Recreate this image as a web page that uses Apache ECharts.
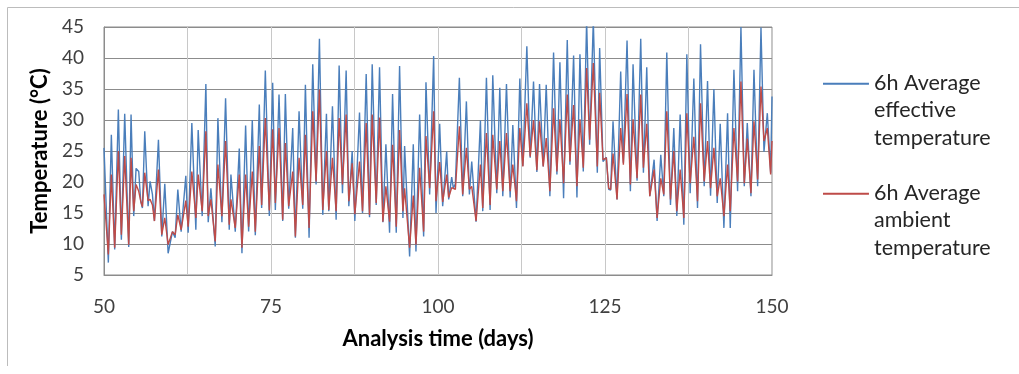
<!DOCTYPE html>
<html>
<head>
<meta charset="utf-8">
<script src="https://cdn.jsdelivr.net/npm/echarts@6/dist/echarts.min.js"></script>
<style>
html,body{margin:0;padding:0;background:#fff;}
#chart{width:1019px;height:374px;}
</style>
</head>
<body>
<div id="chart"></div>
<script>
// Analysis time (days)
const days = [
  50.0, 50.65, 51.1, 51.6, 52.15, 52.6, 53.1, 53.7, 54.05, 54.45, 54.8, 55.2, 55.5, 55.75, 56.1, 56.6, 56.9, 57.25, 57.55, 58.15, 58.65, 59.1, 59.6, 60.25, 60.65, 61.05, 61.55, 62.25, 62.6,
  63.15, 63.75, 64.1, 64.7, 65.25, 65.6, 66.0, 66.65, 67.05, 67.65, 68.2, 68.75, 69.0, 69.65, 70.25, 70.65, 71.2, 71.65, 72.2, 72.65, 73.25, 73.6, 74.15, 74.75,
  75.25, 75.65, 76.2, 76.75, 77.15, 77.65, 78.25, 78.65, 79.2, 79.75, 80.15, 80.7, 81.25, 81.75, 82.25, 82.75, 83.3, 83.65, 84.2, 84.75, 85.2, 85.7, 86.25, 86.65, 87.15, 87.55,
  88.25, 88.7, 89.25, 89.75, 90.15, 90.75, 91.25, 91.75, 92.2, 92.75, 93.2, 93.75, 94.25, 94.75, 95.0, 95.75, 96.3, 96.7, 97.25, 97.85, 98.2, 98.75, 99.35, 99.7, 100.25, 100.7,
  101.3, 101.6, 102.05, 102.3, 102.6, 103.2, 103.7, 104.25, 104.7, 105.05, 105.7, 106.35, 106.7, 107.25, 107.8, 108.2, 108.8, 109.25, 109.7, 110.25, 110.8, 111.2, 111.75, 112.25, 112.7, 113.3,
  113.8, 114.3, 114.8, 115.2, 115.75, 116.2, 116.75, 117.3, 117.8, 118.25, 118.8, 119.35, 119.75, 120.3, 120.8, 121.25, 121.75, 122.25, 122.7, 123.25, 123.85, 124.2, 124.7, 125.2, 125.55, 125.85, 126.2,
  126.8, 127.35, 127.75, 128.3, 128.8, 129.2, 129.8, 130.35, 130.75, 131.25, 131.7, 132.35, 132.8, 133.35, 133.8, 134.25, 134.8, 135.3, 135.75, 136.25, 136.8, 137.25, 137.75,
  138.3, 138.85, 139.3, 139.85, 140.35, 140.8, 141.3, 141.8, 142.25, 142.8, 143.35, 143.75, 144.3, 144.85, 145.35, 145.85, 146.3, 146.85, 147.3, 147.85, 148.35, 148.8, 149.3, 149.8, 150.0
];

// 6h Average effective temperature (°C)
const effective = [
  25.5, 7, 27.6, 9.1, 31.7, 10.7, 31, 9.5, 30.9, 14.5, 22.2, 21.7, 16.9, 15.8, 28.2, 16.1, 20.1, 18, 13.7, 26.8, 11.2, 19.7, 8.5, 12, 11, 18.8, 12, 21, 11.8,
  29.5, 12.3, 28.4, 14.5, 35.8, 13.5, 19, 9.6, 30.3, 13.5, 33.5, 12.3, 21.2, 12, 25.4, 8.5, 29.1, 12, 30, 11.4, 32.5, 15.8, 38, 14.5,
  36, 15.5, 34.1, 13.7, 34.2, 15.7, 28.7, 11, 31.4, 15.7, 35.7, 11, 39, 19.6, 43.1, 14.7, 31, 15.3, 32.2, 13.9, 38.8, 18.2, 38, 16.1, 25, 13.7,
  31.2, 15, 37.4, 14.3, 39, 16.3, 38.5, 13.5, 26.1, 11.8, 34.2, 11.8, 38.7, 14.2, 25.8, 8, 26.1, 8.8, 30.9, 11.2, 36.1, 18, 40.3, 15, 29.4, 16.1,
  24.9, 17.2, 20.8, 19, 19.7, 36.8, 17.7, 33, 18, 23.3, 13.6, 29.9, 15.3, 36.8, 15.5, 37.2, 18.2, 35.2, 17.7, 35.8, 17.5, 29.2, 15.8, 36.7, 22.6, 41.9,
  23.9, 36.2, 21.6, 35.8, 22.5, 35.7, 17.7, 40.9, 21.2, 39.3, 17.4, 42.9, 22.8, 40.4, 17.5, 40.6, 21.7, 46, 26, 46, 21.5, 41.6, 23.3, 24, 18.8, 18.7, 29.8,
  17.2, 37.8, 23.1, 42.8, 18.5, 39, 20.2, 43.1, 21.5, 38.5, 17.7, 23.6, 13.7, 24.4, 17.7, 40.9, 16.3, 28.7, 14.5, 30.9, 13.1, 40.6, 18.2,
  36.7, 15.8, 42.2, 19.3, 36.3, 17.8, 35, 16.6, 29.4, 12.6, 31.1, 12.6, 38.1, 18.5, 45, 19.3, 29.5, 17.7, 38.1, 19.3, 44.9, 24.9, 31.1, 21.5, 33.8
];

// 6h Average ambient temperature (°C)
const ambient = [
  18, 8.3, 21.2, 9.4, 25, 11.5, 24.2, 9.9, 23.9, 15.3, 19.6, 18.5, 16.9, 16, 21.5, 17, 17.2, 16.3, 13.7, 22, 11.5, 14.2, 9.9, 12, 11.5, 14.7, 12.3, 17, 12.8,
  21.7, 14.2, 21.2, 15.3, 28.2, 14.5, 17.2, 10.4, 22.8, 14.5, 26.6, 13.1, 17.2, 12.6, 21.2, 9.4, 21.2, 12.8, 21.7, 12, 25.8, 16.3, 30.3, 15.4,
  28.5, 16.6, 28.7, 13.9, 26.3, 16.1, 21.7, 11.2, 23.9, 16.3, 27.6, 12.6, 31.4, 20.1, 34.9, 15.5, 25, 15.5, 23.9, 15.3, 30.3, 19.6, 30.9, 16.9, 23, 14.8,
  23.3, 15.3, 29.5, 14.7, 30.9, 16.6, 30.4, 13.6, 19.3, 13.6, 26, 12.8, 28.4, 15.3, 19, 9.4, 17.8, 9.9, 22.3, 12, 27.4, 19, 31.4, 16.9, 23.2, 16.8,
  21.2, 17.5, 19.1, 18.8, 18.8, 29, 18, 25.5, 18.8, 19.3, 13.7, 22.8, 15.8, 27.9, 16.3, 27.6, 18.8, 26.6, 18.5, 27.9, 18.5, 22.8, 16.9, 28.7, 22.5, 32.7,
  24.1, 30, 21.9, 29.8, 22.5, 27.1, 18.5, 31.9, 21.7, 30.1, 19.8, 34.1, 23.3, 32.4, 19.3, 30.1, 22.3, 38.4, 26.8, 39.2, 22.5, 34.4, 23.6, 23.9, 19, 18.8, 24.6,
  17.2, 28.7, 22.8, 34.2, 19.6, 30.1, 20.6, 34.1, 22.3, 29.4, 17.7, 22, 14.2, 20.6, 18, 31.4, 17.2, 25, 15.3, 22, 14.2, 31.1, 19.8,
  27.3, 16.9, 32.7, 20.1, 26.6, 19, 25.5, 17.7, 20.6, 14.5, 22.8, 15.3, 28.7, 20.1, 36.2, 19.8, 27, 18.2, 29.8, 20.4, 35.4, 26.6, 28.7, 21.2, 26.6
];

const seriesNames = ['6h Average\neffective\ntemperature', '6h Average\nambient\ntemperature'];
const seriesColors = ['#4A7EBB', '#BE4B48'];
const xLabelEvery = 25;

const FONT = 'Lato';
const chart = echarts.init(document.getElementById('chart'), null, {renderer: 'canvas'});

function pairs(ys) { return days.map((d, i) => [d, ys[i]]); }

const legendIcon = 'path://M0,0H46V2H0Z M0,55H0.05V55.05H0Z';

chart.setOption({
  animation: false,
  backgroundColor: '#fff',
  textStyle: {fontFamily: FONT},
  grid: {left: 104, right: 247, top: 27, bottom: 99, containLabel: false,
         show: true, borderColor: '#8c8c8c', borderWidth: 1},
  xAxis: {
    type: 'value', min: 50, max: 150, interval: 12.5,
    name: 'Analysis time (days)', nameLocation: 'middle', nameGap: 53,
    nameTextStyle: {fontFamily: FONT, fontSize: 22, fontWeight: 'bold', color: '#000'},
    axisLine: {show: true, lineStyle: {color: '#8c8c8c'}},
    axisTick: {show: false},
    axisLabel: {
      margin: 22, fontFamily: FONT, fontSize: 19, color: '#404040',
      formatter: v => (v % xLabelEvery === 0 ? String(v) : '')
    },
    splitLine: {show: true, lineStyle: {color: '#c8c8c8', width: 1}}
  },
  yAxis: {
    type: 'value', min: 5, max: 45, interval: 5,
    name: 'Temperature (°C)', nameLocation: 'middle', nameGap: 53,
    nameTextStyle: {fontFamily: FONT, fontSize: 22, fontWeight: 'bold', color: '#000'},
    axisLine: {show: true, lineStyle: {color: '#8c8c8c'}},
    axisTick: {show: false},
    axisLabel: {margin: 20, fontFamily: FONT, fontSize: 19, color: '#404040'},
    splitLine: {show: true, lineStyle: {color: '#8c8c8c', width: 1}}
  },
  legend: {
    orient: 'vertical', left: 818, top: 64,
    itemWidth: 46, itemHeight: 55, itemGap: 27.5,
    icon: legendIcon,
    textStyle: {fontFamily: FONT, fontSize: 21.5, lineHeight: 27.5, color: '#262626'},
    data: seriesNames
  },
  graphic: [
    {type: 'line', shape: {x1: 7.5, y1: 7.5, x2: 1019, y2: 7.5}, style: {stroke: '#bcbcbc', lineWidth: 1}},
    {type: 'line', shape: {x1: 7.5, y1: 7.5, x2: 7.5, y2: 366}, style: {stroke: '#bcbcbc', lineWidth: 1}}
  ],
  series: [
    {name: seriesNames[0], type: 'line', data: pairs(effective), showSymbol: false, symbol: 'none',
     color: seriesColors[0], lineStyle: {width: 1.4, color: seriesColors[0]}, clip: true},
    {name: seriesNames[1], type: 'line', data: pairs(ambient), showSymbol: false, symbol: 'none',
     color: seriesColors[1], lineStyle: {width: 1.4, color: seriesColors[1]}, clip: true}
  ]
});
</script>
</body>
</html>
